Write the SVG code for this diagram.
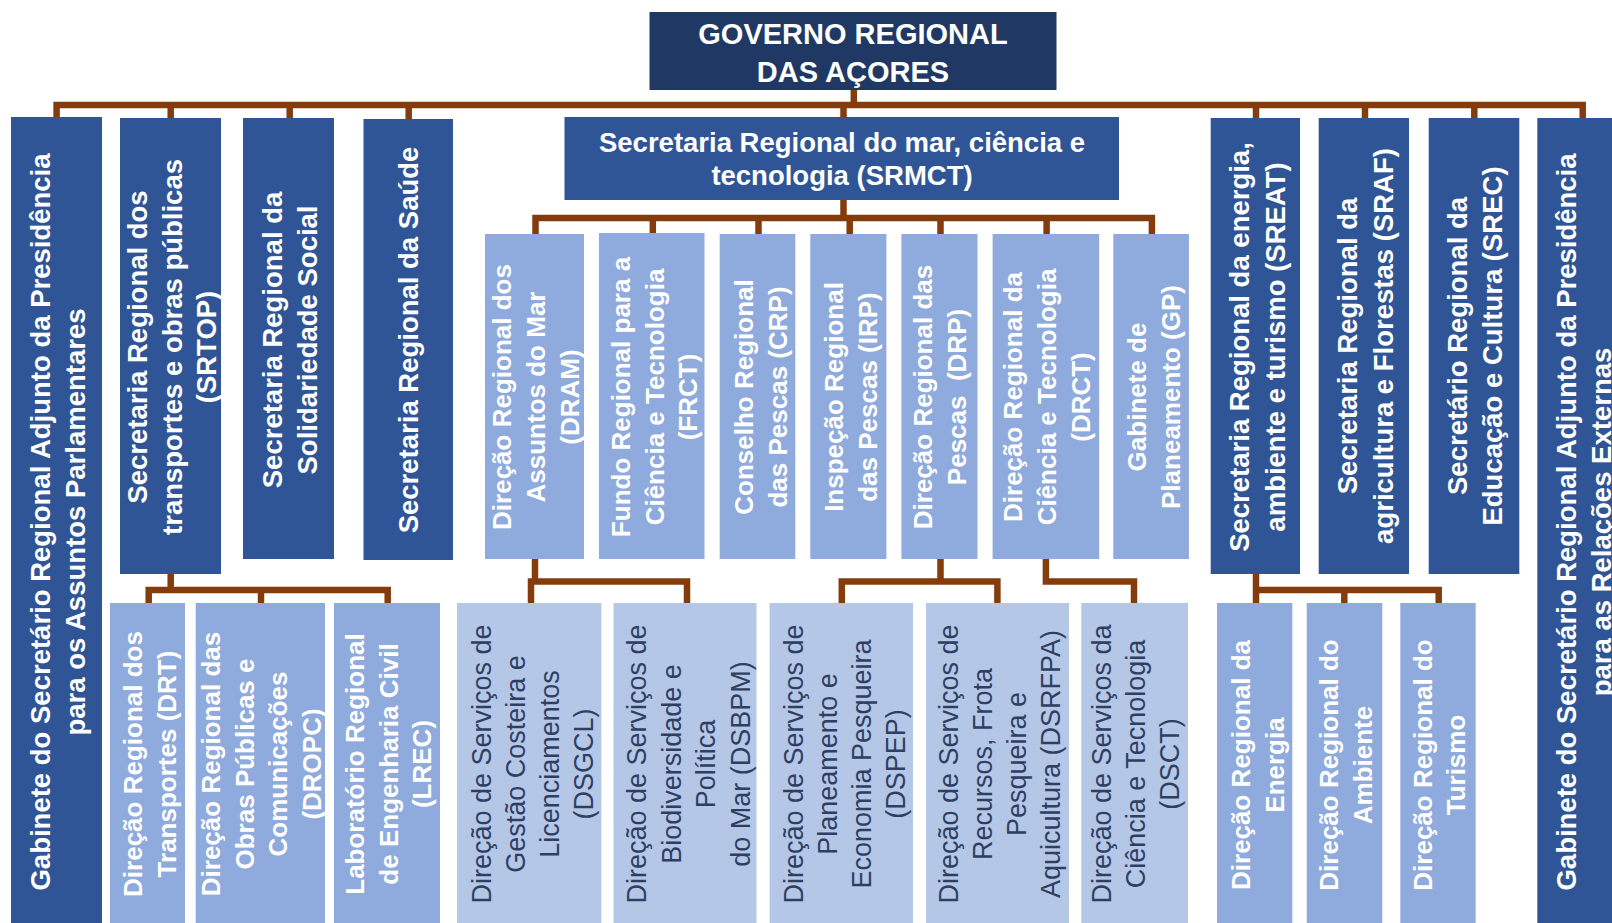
<svg xmlns="http://www.w3.org/2000/svg" width="1612" height="923" viewBox="0 0 1612 923">
<style>
.dark{fill:#203864}
.mid{fill:#2f5597}
.l2{fill:#8faadc}
.l3{fill:#b4c7e7}
.conn path{fill:none;stroke:#843c0c;stroke-width:6.5;stroke-linejoin:miter;stroke-linecap:butt}
.tw{font-family:"Liberation Sans",Arial,sans-serif;font-weight:bold;fill:#ffffff;text-anchor:middle}
.big{font-size:27.5px}
.med{font-size:26px}
.td{font-family:"Liberation Sans",Arial,sans-serif;font-weight:normal;fill:#2f3f63;font-size:27px;text-anchor:middle}
</style>
<rect width="1612" height="923" fill="#ffffff"/>

<g id="connectors" class="conn">
  <path d="M853.8 90 V105"/>
  <path d="M56.6 117 V105 H1582.7 V118"/>
  <path d="M170.7 105 V118"/>
  <path d="M289.7 105 V118"/>
  <path d="M408.7 105 V119"/>
  <path d="M843.5 105 V117"/>
  <path d="M1256 105 V118"/>
  <path d="M1365 105 V118"/>
  <path d="M1474.3 105 V118"/>
  <path d="M843.5 200 V218"/>
  <path d="M535.5 235 V218 H1151.9 V235"/>
  <path d="M652.8 218 V233"/>
  <path d="M758.5 218 V235"/>
  <path d="M849.7 218 V235"/>
  <path d="M940.5 218 V235"/>
  <path d="M1046.6 218 V235"/>
  <path d="M170.7 574 V590"/>
  <path d="M148.7 603 V590 H387.7 V603"/>
  <path d="M261 590 V603"/>
  <path d="M535 559 V581.5"/>
  <path d="M531 603 V581.5 H687 V603"/>
  <path d="M940.5 559 V581.5"/>
  <path d="M841.8 603 V581.5 H997.4 V603"/>
  <path d="M1045.9 559 V581.5 H1134 V603"/>
  <path d="M1256 574 V603"/>
  <path d="M1256 590 H1438.7 V603"/>
  <path d="M1344.3 590 V603"/>
</g>

<g id="governo">
  <rect class="dark" x="649.5" y="12" width="407" height="78"/>
  <text class="tw" font-size="29"><tspan x="853" y="43.5">GOVERNO REGIONAL</tspan><tspan x="853" y="81.5">DAS AÇORES</tspan></text>
</g>

<g id="gab-parlamentares">
  <rect class="mid" x="11" y="117" width="91" height="806"/>
  <text class="tw big" transform="translate(0 522) rotate(-90)"><tspan x="0" y="50">Gabinete do Secretário Regional Adjunto da Presidência</tspan><tspan x="0" y="85">para os Assuntos Parlamentares</tspan></text>
</g>

<g id="srtop">
  <rect class="mid" x="120" y="118" width="101" height="456"/>
  <text class="tw big" transform="translate(0 347) rotate(-90)"><tspan x="0" y="147">Secretaria Regional dos</tspan><tspan x="0" y="181.5">transportes e obras públicas</tspan><tspan x="0" y="216">(SRTOP)</tspan></text>
</g>

<g id="srss">
  <rect class="mid" x="243" y="118" width="91" height="441"/>
  <text class="tw big" transform="translate(0 340) rotate(-90)"><tspan x="0" y="281.5">Secretaria Regional da</tspan><tspan x="0" y="316.5">Solidariedade Social</tspan></text>
</g>

<g id="srs">
  <rect class="mid" x="363.5" y="119" width="89.5" height="441"/>
  <text class="tw big" transform="translate(0 340) rotate(-90)"><tspan x="0" y="418.3">Secretaria Regional da Saúde</tspan></text>
</g>

<g id="srmct">
  <rect class="mid" x="564.5" y="117" width="554.5" height="83"/>
  <text class="tw big"><tspan x="842" y="151.7">Secretaria Regional do mar, ciência e</tspan><tspan x="842" y="185">tecnologia (SRMCT)</tspan></text>
</g>

<g id="sreat">
  <rect class="mid" x="1210.7" y="118" width="89.3" height="456"/>
  <text class="tw big" transform="translate(0 347) rotate(-90)"><tspan x="0" y="1249">Secretaria Regional da energia,</tspan><tspan x="0" y="1285">ambiente e turismo (SREAT)</tspan></text>
</g>

<g id="sraf">
  <rect class="mid" x="1318.7" y="118" width="90.3" height="456"/>
  <text class="tw big" transform="translate(0 346) rotate(-90)"><tspan x="0" y="1357.3">Secretaria Regional da</tspan><tspan x="0" y="1392.5">agricultura e Florestas (SRAF)</tspan></text>
</g>

<g id="srec">
  <rect class="mid" x="1428.7" y="118" width="90.6" height="456"/>
  <text class="tw big" transform="translate(0 346) rotate(-90)"><tspan x="0" y="1467.3">Secretário Regional da</tspan><tspan x="0" y="1502.3">Educação e Cultura (SREC)</tspan></text>
</g>

<g id="gab-relacoes">
  <rect class="mid" x="1537.3" y="118" width="74.7" height="805"/>
  <text class="tw big" transform="translate(0 522) rotate(-90)"><tspan x="0" y="1576">Gabinete do Secretário Regional Adjunto da Presidência</tspan><tspan x="0" y="1611">para as Relações Externas</tspan></text>
</g>

<g id="dram">
  <rect class="l2" x="485" y="234" width="99" height="325"/>
  <text class="tw med" transform="translate(0 397) rotate(-90)"><tspan x="0" y="511">Direção Regional dos</tspan><tspan x="0" y="545">Assuntos do Mar</tspan><tspan x="0" y="578.5">(DRAM)</tspan></text>
</g>

<g id="frct">
  <rect class="l2" x="599" y="233" width="105.5" height="326"/>
  <text class="tw med" transform="translate(0 397) rotate(-90)"><tspan x="0" y="629.5">Fundo Regional para a</tspan><tspan x="0" y="663.5">Ciência e Tecnologia</tspan><tspan x="0" y="697">(FRCT)</tspan></text>
</g>

<g id="crp">
  <rect class="l2" x="719.7" y="234" width="75.6" height="325"/>
  <text class="tw med" transform="translate(0 397) rotate(-90)"><tspan x="0" y="753">Conselho Regional</tspan><tspan x="0" y="787">das Pescas (CRP)</tspan></text>
</g>

<g id="irp">
  <rect class="l2" x="810.3" y="234" width="76.1" height="325"/>
  <text class="tw med" transform="translate(0 397) rotate(-90)"><tspan x="0" y="842.5">Inspeção Regional</tspan><tspan x="0" y="876.5">das Pescas (IRP)</tspan></text>
</g>

<g id="drp">
  <rect class="l2" x="901.4" y="234" width="76.1" height="325"/>
  <text class="tw med" transform="translate(0 397) rotate(-90)"><tspan x="0" y="932">Direção Regional das</tspan><tspan x="0" y="966">Pescas&#160; (DRP)</tspan></text>
</g>

<g id="drct">
  <rect class="l2" x="992.6" y="234" width="106.6" height="325"/>
  <text class="tw med" transform="translate(0 397) rotate(-90)"><tspan x="0" y="1022">Direção Regional da</tspan><tspan x="0" y="1056">Ciência e Tecnologia</tspan><tspan x="0" y="1090">(DRCT)</tspan></text>
</g>

<g id="gp">
  <rect class="l2" x="1113.3" y="234" width="75.6" height="325"/>
  <text class="tw med" transform="translate(0 397) rotate(-90)"><tspan x="0" y="1145.5">Gabinete de</tspan><tspan x="0" y="1179.5">Planeamento (GP)</tspan></text>
</g>

<g id="drt">
  <rect class="l2" x="110" y="603" width="75" height="320"/>
  <text class="tw med" transform="translate(0 764) rotate(-90)"><tspan x="0" y="141.7">Direção Regional dos</tspan><tspan x="0" y="175.7">Transportes (DRT)</tspan></text>
</g>

<g id="dropc">
  <rect class="l2" x="195.7" y="603" width="129.3" height="320"/>
  <text class="tw med" transform="translate(0 764) rotate(-90)"><tspan x="0" y="220">Direção Regional das</tspan><tspan x="0" y="253.5">Obras Públicas e</tspan><tspan x="0" y="287">Comunicações</tspan><tspan x="0" y="320.5">(DROPC)</tspan></text>
</g>

<g id="lrec">
  <rect class="l2" x="334" y="603" width="106" height="320"/>
  <text class="tw med" transform="translate(0 764) rotate(-90)"><tspan x="0" y="364">Laboratório Regional</tspan><tspan x="0" y="398">de Engenharia Civil</tspan><tspan x="0" y="431">(LREC)</tspan></text>
</g>

<g id="dsgcl">
  <rect class="l3" x="457" y="603" width="144.4" height="320"/>
  <text class="td" transform="translate(0 764) rotate(-90)"><tspan x="0" y="491">Direção de Serviços de</tspan><tspan x="0" y="525">Gestão Costeira e</tspan><tspan x="0" y="558.5">Licenciamentos</tspan><tspan x="0" y="592.5">(DSGCL)</tspan></text>
</g>

<g id="dsbpm">
  <rect class="l3" x="613.5" y="603" width="143" height="320"/>
  <text class="td" transform="translate(0 764) rotate(-90)"><tspan x="0" y="646">Direção de Serviços de</tspan><tspan x="0" y="680.5">Biodiversidade e</tspan><tspan x="0" y="715">Política</tspan><tspan x="0" y="749.5">do Mar (DSBPM)</tspan></text>
</g>

<g id="dspep">
  <rect class="l3" x="769.6" y="603" width="143.4" height="320"/>
  <text class="td" transform="translate(0 764) rotate(-90)"><tspan x="0" y="802.5">Direção de Serviços de</tspan><tspan x="0" y="836.5">Planeamento e</tspan><tspan x="0" y="870.5">Economia Pesqueira</tspan><tspan x="0" y="904.5">(DSPEP)</tspan></text>
</g>

<g id="dsrfpa">
  <rect class="l3" x="926" y="603" width="143" height="320"/>
  <text class="td" transform="translate(0 764) rotate(-90)"><tspan x="0" y="957.5">Direção de Serviços de</tspan><tspan x="0" y="992">Recursos, Frota</tspan><tspan x="0" y="1026">Pesqueira e</tspan><tspan x="0" y="1060">Aquicultura (DSRFPA)</tspan></text>
</g>

<g id="dsct">
  <rect class="l3" x="1081.3" y="603" width="106.7" height="320"/>
  <text class="td" transform="translate(0 764) rotate(-90)"><tspan x="0" y="1110.5">Direção de Serviços da</tspan><tspan x="0" y="1145">Ciência e Tecnologia</tspan><tspan x="0" y="1179">(DSCT)</tspan></text>
</g>

<g id="dre">
  <rect class="l2" x="1217" y="603" width="75.3" height="320"/>
  <text class="tw med" transform="translate(0 765) rotate(-90)"><tspan x="0" y="1250">Direção Regional da</tspan><tspan x="0" y="1283.5">Energia</tspan></text>
</g>

<g id="dra">
  <rect class="l2" x="1306.7" y="603" width="75.6" height="320"/>
  <text class="tw med" transform="translate(0 765) rotate(-90)"><tspan x="0" y="1338.3">Direção Regional do</tspan><tspan x="0" y="1371.7">Ambiente</tspan></text>
</g>

<g id="drtur">
  <rect class="l2" x="1400.3" y="603" width="75.4" height="320"/>
  <text class="tw med" transform="translate(0 765) rotate(-90)"><tspan x="0" y="1431.7">Direção Regional do</tspan><tspan x="0" y="1465">Turismo</tspan></text>
</g>
</svg>
